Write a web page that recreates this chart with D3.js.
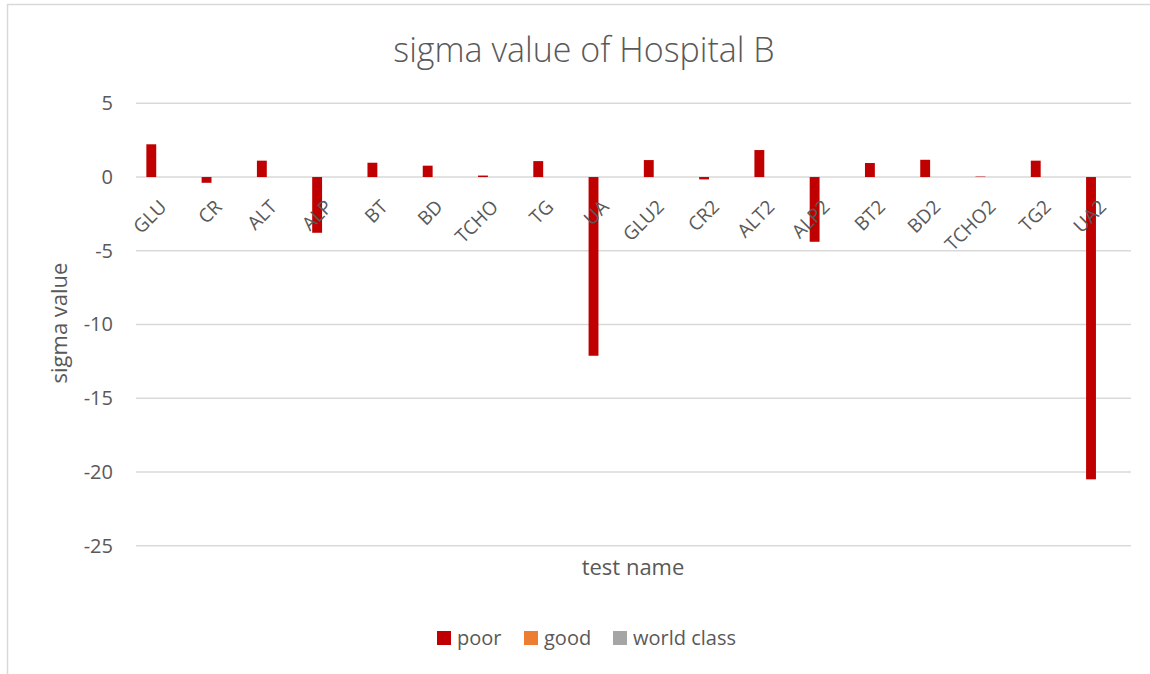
<!DOCTYPE html>
<html><head><meta charset="utf-8">
<script src="https://cdn.jsdelivr.net/npm/d3@7"></script>
<style>body{margin:0;background:#fff;} text{font-family:"Open Sans",Lato,sans-serif;}</style>
</head><body>
<svg id="c" width="1150" height="674"></svg>
<script>
const categories = ["GLU","CR","ALT","ALP","BT","BD","TCHO","TG","UA","GLU2","CR2","ALT2","ALP2","BT2","BD2","TCHO2","TG2","UA2"];
const seriesNames = ["poor","good","world class"];
const poor = [2.22,-0.39,1.11,-3.78,0.97,0.77,0.1,1.08,-12.12,1.15,-0.16,1.83,-4.39,0.95,1.17,0.03,1.11,-20.5];
const good = [null,null,null,null,null,null,null,null,null,null,null,null,null,null,null,null,null,null];
const worldClass = [null,null,null,null,null,null,null,null,null,null,null,null,null,null,null,null,null,null];
const yTicks = [5,0,-5,-10,-15,-20,-25];
const colors = ["#C00000","#ED7D31","#A5A5A5"];
const title = "sigma value of Hospital B";
const xTitle = "test name";
const yTitle = "sigma value";

const svg = d3.select("#c");
const txt = "#595959";
// chart border
svg.append("rect").attr("x",7.5).attr("y",4.5).attr("width",1160).attr("height",700)
  .attr("fill","none").attr("stroke","#d9d9d9").attr("stroke-width",1.5);

const L=136, R=1131, T=103.3, B=545.7;
const x = d3.scaleBand().domain(categories).range([L,R]);
const x1 = d3.scaleBand().domain(seriesNames).range([-x.bandwidth()*0.335, x.bandwidth()*0.335]).paddingInner(0.2).paddingOuter(0.1);
const y = d3.scaleLinear().domain([-25,5]).range([B,T]);

// grid
svg.append("g").selectAll("line").data(yTicks).join("line")
  .attr("x1",L).attr("x2",R).attr("y1",d=>y(d)).attr("y2",d=>y(d))
  .attr("stroke","#d9d9d9").attr("stroke-width",1.5);

// y axis labels
const yAxis = d3.axisLeft(y).tickValues(yTicks).tickSize(0).tickPadding(0).tickFormat(d=>String(d));
const ga = svg.append("g").attr("transform",`translate(${L-23},0)`).call(yAxis);
ga.select(".domain").remove();
ga.selectAll("text").attr("fill",txt).style("font-size","20px").style("font-family","'Open Sans', Lato, sans-serif");

// bars
const data = [poor, good, worldClass];
data.forEach((vals,si)=>{
  svg.append("g").selectAll("rect").data(vals.map((v,i)=>({c:categories[i],v})).filter(d=>d.v!=null)).join("rect")
    .attr("x",d=>x(d.c)+x.bandwidth()/2+x1(seriesNames[si]))
    .attr("width",x1.bandwidth())
    .attr("y",d=>y(Math.max(0,d.v)))
    .attr("height",d=>Math.abs(y(d.v)-y(0)))
    .attr("fill",colors[si]);
});

// x labels
svg.append("g").selectAll("text").data(categories).join("text")
  .attr("transform",d=>`translate(${x(d)+x.bandwidth()/2-6},${y(0)+21}) rotate(-45)`)
  .attr("text-anchor","end").attr("dy","0.75em")
  .attr("fill",txt).style("font-size","19px").text(d=>d);

// title
svg.append("text").attr("x",584).attr("y",62).attr("text-anchor","middle")
  .attr("fill",txt).style("font-size","34px").style("font-weight","300").text(title);
svg.append("text").attr("x",633).attr("y",575).attr("text-anchor","middle")
  .attr("fill",txt).style("font-size","22px").text(xTitle);
svg.append("text").attr("transform","translate(67,323) rotate(-90)").attr("text-anchor","middle")
  .attr("fill",txt).style("font-size","22px").text(yTitle);

// legend
const legX=[437,524,613];
const lg = svg.append("g").selectAll("g").data(seriesNames).join("g")
  .attr("transform",(d,i)=>`translate(${legX[i]},631)`);
lg.append("rect").attr("width",14).attr("height",14).attr("fill",(d,i)=>colors[i]);
lg.append("text").attr("x",20).attr("y",14).attr("fill",txt).style("font-size","20px").text(d=>d);
</script>
</body></html>
